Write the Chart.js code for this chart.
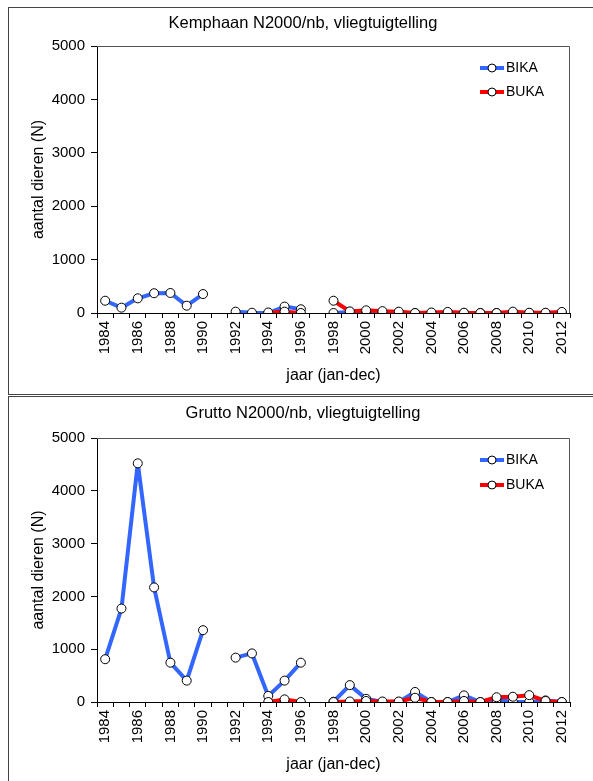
<!DOCTYPE html>
<html><head><meta charset="utf-8">
<script src="https://cdn.jsdelivr.net/npm/chart.js@4/dist/chart.umd.min.js"></script>
<style>
html,body{margin:0;padding:0;background:#fff;overflow:hidden;width:593px;height:781px;}
.panel{position:absolute;left:8px;width:600px;border:1px solid #444;}
#p1{top:7px;height:386px;}
#p2{top:396px;height:400px;}
canvas{position:absolute;left:0;top:0;}
</style></head><body>
<div class="panel" id="p1"><canvas id="c1" width="584" height="386"></canvas></div>
<div class="panel" id="p2"><canvas id="c2" width="584" height="386"></canvas></div>
<script>
const years = ['1984','1985','1986','1987','1988','1989','1990','1991','1992','1993','1994','1995','1996','1997','1998','1999','2000','2001','2002','2003','2004','2005','2006','2007','2008','2009','2010','2011','2012'];
const yTicks = [0,1000,2000,3000,4000,5000];
const seriesNames = ['BIKA','BUKA'];
const titles = ['Kemphaan N2000/nb, vliegtuigtelling','Grutto N2000/nb, vliegtuigtelling'];
const kemphaanBIKA = [230,100,275,370,375,137,355,null,25,5,0,120,70,null,0,20,0,5,5,0,0,5,0,0,0,5,0,0,5];
const kemphaanBUKA = [null,null,null,null,null,null,null,null,null,null,10,25,0,null,230,30,50,35,25,0,10,20,5,0,0,25,5,5,20];
const gruttoBIKA = [810,1770,4520,2170,745,405,1360,null,840,920,115,405,745,null,5,320,60,0,0,190,0,0,125,0,50,0,0,30,0];
const gruttoBUKA = [null,null,null,null,null,null,null,null,null,null,0,50,0,null,0,10,20,10,10,80,0,0,20,0,90,100,130,20,0];

const FONT = '"Liberation Sans", Arial, sans-serif';
Chart.defaults.font.family = FONT;
Chart.defaults.color = '#000';

const framePlugin = {
  id: 'frame',
  beforeDatasetsDraw(chart) {
    const a = chart.chartArea, ctx = chart.ctx;
    ctx.save();
    ctx.strokeStyle = '#555';
    ctx.lineWidth = 1;
    ctx.beginPath();
    ctx.moveTo(a.left, a.top + 0.5);
    ctx.lineTo(a.right - 0.5, a.top + 0.5);
    ctx.lineTo(a.right - 0.5, a.bottom);
    ctx.stroke();
    ctx.restore();
  }
};
const chartTitle = {
  id: 'chartTitle',
  afterDraw(chart, args, opts) {
    const ctx = chart.ctx;
    ctx.save();
    ctx.fillStyle = '#000';
    ctx.font = opts.size + 'px ' + FONT;
    ctx.textAlign = 'center'; ctx.textBaseline = 'middle';
    ctx.fillText(opts.text, opts.x, opts.y);
    ctx.restore();
  }
};
const miniLegend = {
  id: 'miniLegend',
  afterDatasetsDraw(chart, args, opts) {
    const ctx = chart.ctx;
    chart.data.datasets.forEach((ds, i) => {
      const y = opts.y + i * opts.gap;
      const x = opts.x;
      ctx.save();
      ctx.strokeStyle = ds.borderColor; ctx.lineWidth = 4;
      ctx.beginPath(); ctx.moveTo(x, y); ctx.lineTo(x + 24, y); ctx.stroke();
      ctx.beginPath(); ctx.arc(x + 12, y, 4, 0, Math.PI * 2);
      ctx.fillStyle = '#fff'; ctx.fill();
      ctx.lineWidth = 1; ctx.strokeStyle = '#000'; ctx.stroke();
      ctx.fillStyle = '#000'; ctx.font = '14px ' + FONT;
      ctx.textBaseline = 'middle'; ctx.textAlign = 'left';
      ctx.fillText(ds.label, x + 26, y);
      ctx.restore();
    });
  }
};

function makeChart(id, title, bika, buka, topPad, titleY, legendPos) {
  return new Chart(document.getElementById(id), {
    type: 'line',
    data: {
      labels: years,
      datasets: [
        {label: seriesNames[0], data: bika, borderColor: '#3366ff', backgroundColor: '#fff', borderWidth: 4, borderJoinStyle: 'round',
         pointRadius: 4.5, pointBorderWidth: 1, pointBorderColor: '#000', pointBackgroundColor: '#fff', spanGaps: false, order: 1},
        {label: seriesNames[1], data: buka, borderColor: '#ff0000', backgroundColor: '#fff', borderWidth: 4, borderJoinStyle: 'round',
         pointRadius: 4.5, pointBorderWidth: 1, pointBorderColor: '#000', pointBackgroundColor: '#fff', spanGaps: false, order: 0}
      ]
    },
    options: {
      responsive: false, animation: false,
      layout: {padding: {left: 0, right: 23, top: topPad, bottom: 0}},
      plugins: {
        legend: {display: false}, tooltip: {enabled: false}, title: {display: false},
        chartTitle: {text: title, x: 294, y: titleY, size: 16.5},
        miniLegend: legendPos
      },
      scales: {
        x: {
          offset: true,
          grid: {offset: true, drawOnChartArea: false, drawTicks: true, tickLength: 5, color: '#000'},
          border: {color: '#000', width: 1},
          ticks: {autoSkip: false, minRotation: 90, maxRotation: 90, padding: 3, font: {size: 15},
                  callback: function(v, i) { return i % 2 === 0 ? this.getLabelForValue(v) : ''; }},
          title: {display: true, text: 'jaar (jan-dec)', font: {size: 16}, padding: {top: 0, bottom: 9}},
          afterFit(s) { s.height = 81; }
        },
        y: {
          min: 0, max: 5000,
          afterBuildTicks(s) { s.ticks = yTicks.map(v => ({value: v})); },
          grid: {drawOnChartArea: false, drawTicks: true, tickLength: 6, color: '#000'},
          border: {color: '#000', width: 1},
          ticks: {padding: 6, font: {size: 15}, callback: v => String(v)},
          title: {display: true, text: 'aantal dieren (N)', font: {size: 16}, padding: {top: 20, bottom: 0}},
          afterFit(s) { s.width = 88; }
        }
      }
    },
    plugins: [framePlugin, miniLegend, chartTitle]
  });
}
makeChart('c1', titles[0], kemphaanBIKA, kemphaanBUKA, 38, 15, {x: 471, y: 60, gap: 24});
makeChart('c2', titles[1], gruttoBIKA, gruttoBUKA, 41, 16, {x: 471, y: 63, gap: 25});
</script>
</body></html>
